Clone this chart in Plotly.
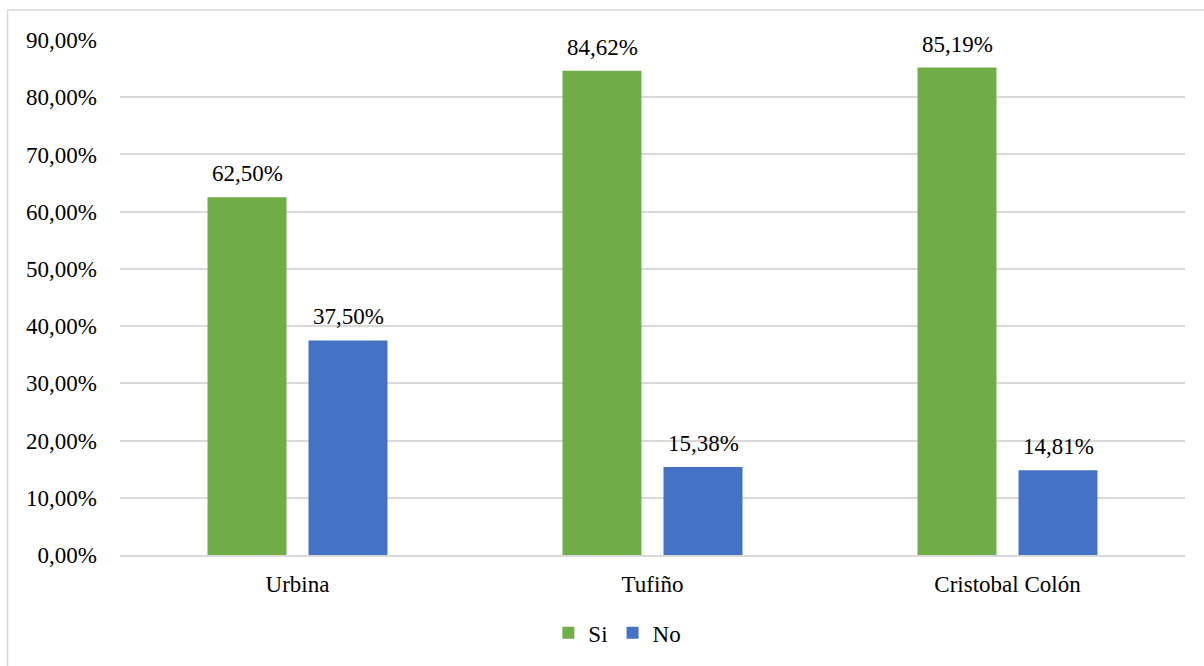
import plotly.graph_objects as go

# Survey answers by neighbourhood (percent)
barrios = ["Urbina", "Tufiño", "Cristobal Colón"]
si_pct = [62.50, 84.62, 85.19]
no_pct = [37.50, 15.38, 14.81]
y_ticks = [0, 10, 20, 30, 40, 50, 60, 70, 80, 90]

FONT = "'Times New Roman', 'Liberation Serif', 'DejaVu Serif', serif"
GREEN = "#70ad47"
BLUE = "#4472c4"
GRID = "#d9d9d9"

BARGAP = 0.431
GROUPGAP = 0.218


def pct_label(v):
    return f"{v:.2f}".replace(".", ",") + "%"


fig = go.Figure()
fig.add_trace(go.Bar(name="Si", x=barrios, y=[v / 100 for v in si_pct],
                     marker=dict(color=GREEN, line=dict(width=0))))
fig.add_trace(go.Bar(name="No", x=barrios, y=[v / 100 for v in no_pct],
                     marker=dict(color=BLUE, line=dict(width=0))))

# value labels above each bar
slot = (1 - BARGAP) / 2
for series, sign in ((si_pct, -1), (no_pct, 1)):
    for i, v in enumerate(series):
        fig.add_annotation(x=i + sign * slot / 2, y=v / 100, xref="x", yref="y",
                           text=pct_label(v), showarrow=False,
                           yanchor="bottom", yshift=9,
                           font=dict(family=FONT, size=23, color="#000000"))

# outer chart frame
fig.add_shape(type="rect", xref="paper", yref="paper",
              x0=-0.1056, x1=1.2, y0=-0.4, y1=1.0583,
              line=dict(color=GRID, width=1.5), fillcolor="rgba(0,0,0,0)",
              layer="below")

fig.update_layout(
    width=1204, height=666,
    margin=dict(l=120, r=19, t=40, b=111, autoexpand=False),
    paper_bgcolor="white", plot_bgcolor="white",
    barmode="group", bargap=BARGAP, bargroupgap=GROUPGAP,
    separators=",.",
    font=dict(family=FONT, size=23, color="#000000"),
    showlegend=True,
    legend=dict(orientation="h", x=0.467, xanchor="center",
                yref="container", y=0.05, yanchor="middle",
                font=dict(family=FONT, size=23), itemwidth=30, itemsizing="constant",
                traceorder="normal", tracegroupgap=0),
)
fig.update_yaxes(range=[0, 0.9], tickvals=[t / 100 for t in y_ticks], tickformat=".2%",
                 showgrid=True, gridcolor=GRID, gridwidth=1.5, zeroline=False,
                 showline=False, ticks="", ticklabelstandoff=22, automargin=False,
                 tickfont=dict(family=FONT, size=23))
fig.update_xaxes(showline=True, linecolor=GRID, linewidth=1.5, ticks="",
                 ticklabelstandoff=8, automargin=False,
                 tickfont=dict(family=FONT, size=23))

fig.write_html("out.html")
